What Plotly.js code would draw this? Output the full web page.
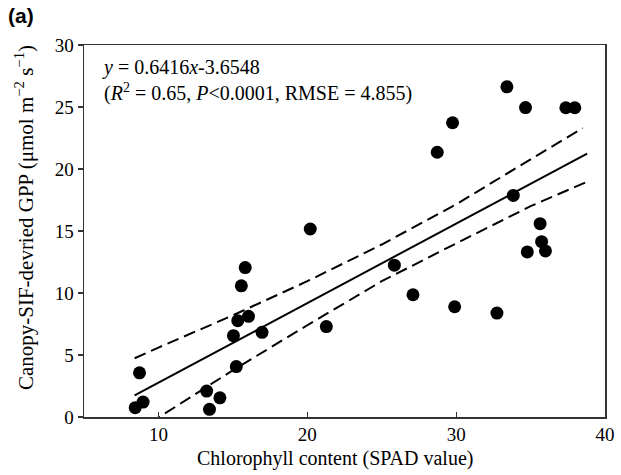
<!DOCTYPE html>
<html>
<head>
<meta charset="utf-8">
<script src="https://cdn.plot.ly/plotly-3.0.1.min.js"></script>
<style>html,body{margin:0;padding:0;background:#fff;}#chart{width:621px;height:475px;}</style>
</head>
<body>
<div id="chart"></div>
<script>
// Observed points (SPAD value vs canopy-SIF-derived GPP)
const spad = [8.44, 8.97, 8.73, 13.24, 13.43, 14.13, 15.23, 15.04, 15.33, 16.05, 15.57, 15.83, 16.96, 20.2, 21.28, 25.85, 27.1, 28.73, 29.76, 29.9, 32.74, 33.41, 33.84, 34.66, 34.78, 35.64, 35.74, 36.0, 37.37, 37.97];
const gpp  = [0.75, 1.2, 3.56, 2.09, 0.62, 1.55, 4.07, 6.56, 7.77, 8.12, 10.58, 12.05, 6.83, 15.16, 7.29, 12.24, 9.86, 21.35, 23.73, 8.89, 8.38, 26.63, 17.87, 24.95, 13.31, 15.59, 14.14, 13.39, 24.94, 24.94];

// Fitted line y = 0.6416x - 3.6548 (end points)
const fitX = [8.4, 38.8];
const fitY = [1.74, 21.24];

// Confidence band
const bandX     = [8.4, 10, 15, 20, 25, 30, 35, 38.5];
const bandUpper = [4.74, 5.6, 8.2, 10.95, 13.91, 17.15, 20.78, 23.3];
const lowX      = [8.4, 10, 15, 20, 25, 30, 35, 38.8];
const bandLower = [-1.27, -0.04, 3.77, 7.4, 10.95, 14.0, 17.0, 18.97];

const xTicks = [10, 20, 30, 40];
const yTicks = [0, 5, 10, 15, 20, 25, 30];

const serif = "Liberation Serif, Times New Roman, serif";

const traces = [
  {x: bandX, y: bandUpper, mode: 'lines', line: {color: '#000', width: 2, dash: '12px,6px'}, hoverinfo: 'skip'},
  {x: lowX, y: bandLower, mode: 'lines', line: {color: '#000', width: 2, dash: '12px,6px'}, hoverinfo: 'skip'},
  {x: fitX, y: fitY, mode: 'lines', line: {color: '#000', width: 2}, hoverinfo: 'skip'},
  {x: spad, y: gpp, mode: 'markers', marker: {color: '#000', size: 13, line: {width: 0}}}
];

const layout = {
  width: 621, height: 475,
  margin: {l: 84, r: 16, t: 45, b: 58},
  paper_bgcolor: '#fff', plot_bgcolor: '#fff',
  showlegend: false,
  font: {family: serif, color: '#000', size: 19},
  xaxis: {
    range: [5, 40], tickvals: xTicks, ticktext: xTicks.map(String),
    ticks: 'inside', ticklen: 5, tickwidth: 1.2, tickcolor: '#333',
    showline: true, linecolor: '#333', linewidth: 1.5, mirror: true,
    showgrid: false, zeroline: false,
    tickfont: {family: serif, size: 19, color: '#000'}
  },
  yaxis: {
    range: [0, 30], tickvals: yTicks, ticktext: yTicks.map(String),
    ticks: 'outside', ticklen: 5, tickwidth: 1.2, tickcolor: '#333',
    showline: true, linecolor: '#333', linewidth: 1.5, mirror: true,
    showgrid: false, zeroline: false,
    tickfont: {family: serif, size: 19, color: '#000'}
  },
  annotations: [
    {xref: 'paper', yref: 'paper', x: 0.482, y: -0.111, xanchor: 'center', yanchor: 'middle', showarrow: false,
     text: 'Chlorophyll content (SPAD value)', font: {family: serif, size: 20, color: '#000'}},
    {xref: 'paper', yref: 'paper', x: -0.113, y: 0.535, xanchor: 'center', yanchor: 'middle', textangle: -90, showarrow: false,
     text: 'Canopy-SIF-devried GPP (μmol m<sup>−2</sup> s<sup>−1</sup>)', font: {family: serif, size: 21, color: '#000'}},
    {xref: 'paper', yref: 'paper', x: 0.031, y: 0.975, xanchor: 'left', yanchor: 'top', align: 'left', showarrow: false,
     text: '<i>y</i> = 0.6416<i>x</i>-3.6548<br>(<i>R</i><sup>2</sup> = 0.65, <i>P</i>&lt;0.0001, RMSE = 4.855)',
     font: {family: serif, size: 20, color: '#000'}},
    {xref: 'paper', yref: 'paper', x: -0.15, y: 1.115, xanchor: 'left', yanchor: 'top', showarrow: false,
     text: '<b>(a)</b>', font: {family: 'Liberation Sans, Arial, sans-serif', size: 21, color: '#000'}}
  ]
};

Plotly.newPlot('chart', traces, layout, {displayModeBar: false, staticPlot: true});
</script>
</body>
</html>
